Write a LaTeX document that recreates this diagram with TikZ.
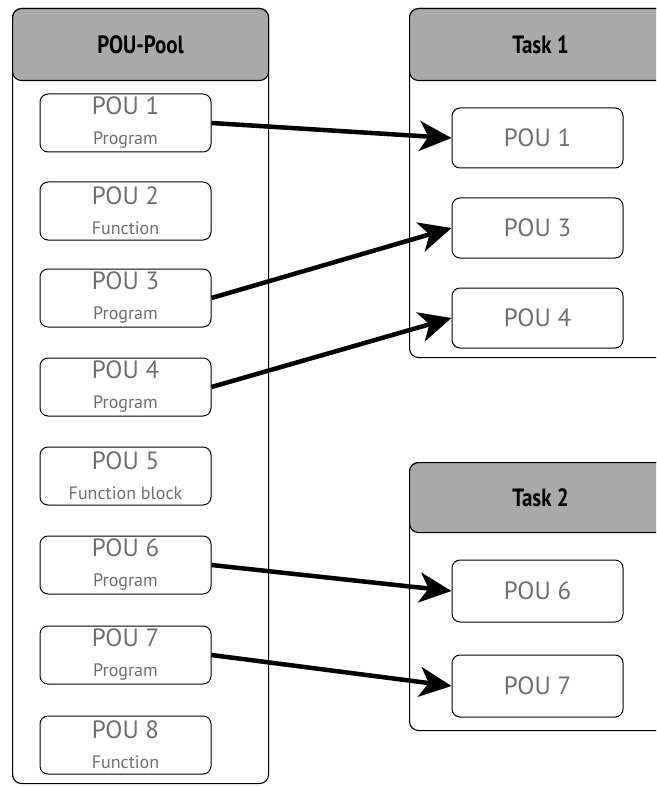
\documentclass[tikz,border=0pt]{standalone}
\usepackage{fontspec}
\setmainfont{PT Sans}
\newfontfamily\headfont{PT Sans}[FakeStretch=0.84]
\usetikzlibrary{arrows.meta}
\definecolor{headgray}{HTML}{A9A9A9}
\definecolor{textgray}{HTML}{6E6E6E}
\newcommand\pouname[1]{{\fontsize{25}{26}\selectfont #1}}
\newcommand\poukind[1]{{\fontsize{18}{19}\selectfont #1}}
\begin{document}
\begin{tikzpicture}[x=1pt,y=-1pt,
  frame/.style={draw=black,line width=1.1pt,rounded corners=9pt,inner sep=0pt,anchor=north west},
  header/.style={frame,fill=headgray,font=\headfont\bfseries\fontsize{25}{25}\selectfont},
  pou/.style={draw=black,line width=1pt,rounded corners=8pt,minimum width=171pt,
    minimum height=58pt,inner sep=0pt,align=center,text=textgray,
    font=\fontsize{18}{30}\selectfont},
  taskpou/.style={pou,minimum height=60pt},
  link/.style={line width=4.5pt,-{Stealth[length=32pt,width=30pt,inset=9pt]}},
]
\useasboundingbox (0,0) rectangle (656,786);
\clip (0,0) rectangle (656,786);

% POU pool
\node[frame,minimum width=256pt,minimum height=775pt] (pool) at (12,8) {};
\node[header,minimum width=256pt,minimum height=72pt] (poolhead) at (12,8) {POU-Pool};

% Task 1
\node[frame,minimum width=262pt,minimum height=349pt] (task1) at (409,8) {};
\node[header,minimum width=262pt,minimum height=72pt] (task1head) at (409,8) {Task 1};

% Task 2
\node[frame,minimum width=262pt,minimum height=268pt] (task2) at (409,462) {};
\node[header,minimum width=262pt,minimum height=70pt] (task2head) at (409,462) {Task 2};

% POUs in the pool
\node[pou] (p1) at (125.5,123) {\pouname{POU 1}\\\poukind{Program}};
\node[pou] (p2) at (125.5,211) {\pouname{POU 2}\\\poukind{Function}};
\node[pou] (p3) at (125.5,298) {\pouname{POU 3}\\\poukind{Program}};
\node[pou] (p4) at (125.5,387) {\pouname{POU 4}\\\poukind{Program}};
\node[pou] (p5) at (125.5,476) {\pouname{POU 5}\\\poukind{Function block}};
\node[pou] (p6) at (125.5,565) {\pouname{POU 6}\\\poukind{Program}};
\node[pou] (p7) at (125.5,655) {\pouname{POU 7}\\\poukind{Program}};
\node[pou] (p8) at (125.5,745) {\pouname{POU 8}\\\poukind{Function}};

% POUs assigned to the tasks
\node[taskpou] (t1) at (537.5,138) {\pouname{POU 1}};
\node[taskpou] (t3) at (537.5,228) {\pouname{POU 3}};
\node[taskpou] (t4) at (537.5,318) {\pouname{POU 4}};
\node[taskpou,minimum height=62pt] (t6) at (537.5,591) {\pouname{POU 6}};
\node[taskpou,minimum height=62pt] (t7) at (537.5,686) {\pouname{POU 7}};

% assignments
\draw[link] (p1.east) -- (t1.west);
\draw[link] (p3.east) -- (t3.west);
\draw[link] (p4.east) -- (t4.west);
\draw[link] (p6.east) -- (t6.west);
\draw[link] (p7.east) -- (t7.west);
\end{tikzpicture}
\end{document}
